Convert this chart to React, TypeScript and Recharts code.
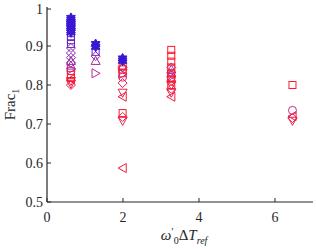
import React from 'react';
import { ScatterChart, Scatter, XAxis, YAxis, Label } from 'recharts';

// column positions
const hexX = [0.63, 0.63, 0.63, 0.63, 0.63, 0.63, 0.63, 0.63, 1.28, 1.28, 1.99, 1.99];
const hexY = [0.972, 0.967, 0.962, 0.957, 0.951, 0.946, 0.94, 0.935, 0.905, 0.898, 0.868, 0.862];

const violetSqX = [0.63, 0.63, 0.63, 1.28];
const violetSqY = [0.925, 0.915, 0.905, 0.885];

const purpleDiaX = [0.63, 0.63, 0.63, 0.63, 1.28, 1.99, 3.27];
const purpleDiaY = [0.895, 0.882, 0.87, 0.857, 0.874, 0.845, 0.845];

const plumTriUpX = [0.63, 0.63, 1.28, 1.99, 3.27, 3.27];
const plumTriUpY = [0.862, 0.85, 0.862, 0.848, 0.84, 0.83];

const plumTriRX = [0.63, 1.28, 1.99, 3.27];
const plumTriRY = [0.84, 0.83, 0.828, 0.822];

const roseCircX = [0.63, 1.99, 3.27, 6.46];
const roseCircY = [0.836, 0.82, 0.82, 0.735];

const redTriDownX = [0.63, 0.63, 1.99, 1.99, 3.27, 3.27, 6.46];
const redTriDownY = [0.81, 0.803, 0.78, 0.708, 0.8, 0.78, 0.708];

const redTriLX = [0.63, 1.99, 1.99, 3.27, 6.46];
const redTriLY = [0.815, 0.77, 0.587, 0.77, 0.72];

const redSqX = [0.63, 0.63, 1.99, 1.99, 1.99, 1.99, 3.27, 3.27, 3.27, 3.27, 3.27, 3.27, 3.27, 6.46];
const redSqY = [0.826, 0.818, 0.85, 0.84, 0.83, 0.728, 0.89, 0.875, 0.86, 0.845, 0.83, 0.815, 0.8, 0.8];

const redDiaX = [0.63, 1.99, 1.99, 3.27, 3.27, 6.46];
const redDiaY = [0.8, 0.805, 0.718, 0.81, 0.79, 0.715];

const xTicks = [0, 2, 4, 6];
const yTicks = [0.5, 0.6, 0.7, 0.8, 0.9, 1];

const AX = '#262626';
const FONT = "'Liberation Serif', 'DejaVu Serif', serif";

const pts = (xs: number[], ys: number[]) => xs.map((x, i) => ({ x, y: ys[i] }));

const series = [
  { name: 'violetSq', data: pts(violetSqX, violetSqY), kind: 'sq', color: '#6a22c4' },
  { name: 'purpleDia', data: pts(purpleDiaX, purpleDiaY), kind: 'dia', color: '#8a28b2' },
  { name: 'plumTriUp', data: pts(plumTriUpX, plumTriUpY), kind: 'up', color: '#a02aa2' },
  { name: 'plumTriR', data: pts(plumTriRX, plumTriRY), kind: 'right', color: '#b02c98' },
  { name: 'roseCirc', data: pts(roseCircX, roseCircY), kind: 'circ', color: '#c82a80' },
  { name: 'redTriDown', data: pts(redTriDownX, redTriDownY), kind: 'down', color: '#e82050' },
  { name: 'redTriL', data: pts(redTriLX, redTriLY), kind: 'left', color: '#f01c3c' },
  { name: 'redDia', data: pts(redDiaX, redDiaY), kind: 'dia', color: '#e81e50' },
  { name: 'redSq', data: pts(redSqX, redSqY), kind: 'sq', color: '#ff1a2a' },
  { name: 'hex', data: pts(hexX, hexY), kind: 'hex', color: '#3a17d4' },
];

const marker = (kind: string, color: string) => (props: any) => {
  const { cx, cy } = props;
  if (cx == null || cy == null) return <g />;
  const s = 4.5;
  const common = { fill: 'none', stroke: color, strokeWidth: 1 };
  if (kind === 'sq') return <rect x={cx - 3.5} y={cy - 3.5} width={7} height={7} {...common} />;
  if (kind === 'circ') return <circle cx={cx} cy={cy} r={4} {...common} />;
  if (kind === 'dia') return <polygon points={`${cx},${cy - s} ${cx + s},${cy} ${cx},${cy + s} ${cx - s},${cy}`} {...common} />;
  if (kind === 'up') return <polygon points={`${cx},${cy - s} ${cx + s},${cy + s * 0.8} ${cx - s},${cy + s * 0.8}`} {...common} />;
  if (kind === 'down') return <polygon points={`${cx},${cy + s} ${cx + s},${cy - s * 0.8} ${cx - s},${cy - s * 0.8}`} {...common} />;
  if (kind === 'left') return <polygon points={`${cx - s},${cy} ${cx + s * 0.8},${cy - s} ${cx + s * 0.8},${cy + s}`} {...common} />;
  if (kind === 'right') return <polygon points={`${cx + s},${cy} ${cx - s * 0.8},${cy - s} ${cx - s * 0.8},${cy + s}`} {...common} />;
  // filled hexagram
  const p: string[] = [];
  for (let i = 0; i < 12; i++) {
    const r = i % 2 === 0 ? 5 : 2.9;
    const a = (Math.PI / 6) * i - Math.PI / 2;
    p.push(`${cx + r * Math.cos(a)},${cy + r * Math.sin(a)}`);
  }
  return <polygon points={p.join(' ')} fill={color} stroke={color} strokeWidth={1} />;
};

const txt = { fontFamily: FONT, fontSize: 14, fill: AX };

const BottomTick = (props: any) => {
  const { x, y, payload } = props;
  return (
    <g>
      <line x1={x} y1={y} x2={x} y2={y - 4} stroke={AX} />
      <text x={x} y={y + 20} textAnchor="middle" style={txt}>
        {payload.value}
      </text>
    </g>
  );
};

const TopTick = (props: any) => {
  const { x, y } = props;
  return <line x1={x} y1={y} x2={x} y2={y + 4} stroke={AX} />;
};

const LeftTick = (props: any) => {
  const { x, y, payload } = props;
  return (
    <g>
      <line x1={x} y1={y} x2={x + 4} y2={y} stroke={AX} />
      <text x={x - 4} y={y + 5} textAnchor="end" style={txt}>
        {payload.value}
      </text>
    </g>
  );
};

const RightTick = (props: any) => {
  const { x, y } = props;
  return <line x1={x} y1={y} x2={x - 4} y2={y} stroke={AX} />;
};

const XLabel = (props: any) => {
  const { viewBox } = props;
  const cx = viewBox.x + viewBox.width / 2 + 4;
  const y = viewBox.y + 38;
  return (
    <text x={cx} y={y} textAnchor="middle" style={{ ...txt, fontSize: 15 }}>
      <tspan fontStyle="italic">ω</tspan>
      <tspan dy={-5} fontSize={11}>′</tspan>
      <tspan dy={9} fontSize={10}>0</tspan>
      <tspan dy={-4}>Δ</tspan>
      <tspan fontStyle="italic">T</tspan>
      <tspan dy={4} fontSize={10} fontStyle="italic">ref</tspan>
    </text>
  );
};

const YLabel = (props: any) => {
  const { viewBox } = props;
  const cx = 15;
  const cy = viewBox.y + viewBox.height / 2;
  return (
    <text x={cx} y={cy} textAnchor="middle" style={{ ...txt, fontSize: 15 }} transform={`rotate(-90, ${cx}, ${cy})`}>
      Frac
      <tspan dy={4} fontSize={10}>1</tspan>
    </text>
  );
};

export default function App() {
  return (
    <div style={{ position: 'absolute', left: 0, top: 0, background: '#fff' }}>
      <ScatterChart width={316} height={249} margin={{ top: 7, right: 3, bottom: 0, left: 7 }}>
        <XAxis
          type="number"
          dataKey="x"
          domain={[0, 7]}
          ticks={xTicks}
          height={47}
          tickSize={0}
          tickMargin={0}
          tickLine={false}
          axisLine={{ stroke: AX, strokeWidth: 1.2 }}
          tick={<BottomTick />}
        >
          <Label content={<XLabel />} />
        </XAxis>
        <XAxis
          xAxisId="top"
          orientation="top"
          type="number"
          dataKey="x"
          domain={[0, 7]}
          ticks={xTicks}
          height={0}
          tickSize={0}
          tickMargin={0}
          tickLine={false}
          axisLine={{ stroke: AX, strokeWidth: 1.2 }}
          tick={<TopTick />}
        />
        <YAxis
          type="number"
          dataKey="y"
          domain={[0.5, 1]}
          ticks={yTicks}
          width={40}
          tickSize={0}
          tickMargin={0}
          tickLine={false}
          axisLine={{ stroke: AX, strokeWidth: 1.2 }}
          tick={<LeftTick />}
        >
          <Label content={<YLabel />} />
        </YAxis>
        <YAxis
          yAxisId="right"
          orientation="right"
          type="number"
          dataKey="y"
          domain={[0.5, 1]}
          ticks={yTicks}
          width={0}
          tickSize={0}
          tickMargin={0}
          tickLine={false}
          axisLine={{ stroke: AX, strokeWidth: 1.2 }}
          tick={<RightTick />}
        />
        {series.map(s => (
          <Scatter
            key={s.name}
            name={s.name}
            data={s.data}
            shape={marker(s.kind, s.color)}
            isAnimationActive={false}
          />
        ))}
      </ScatterChart>
    </div>
  );
}
